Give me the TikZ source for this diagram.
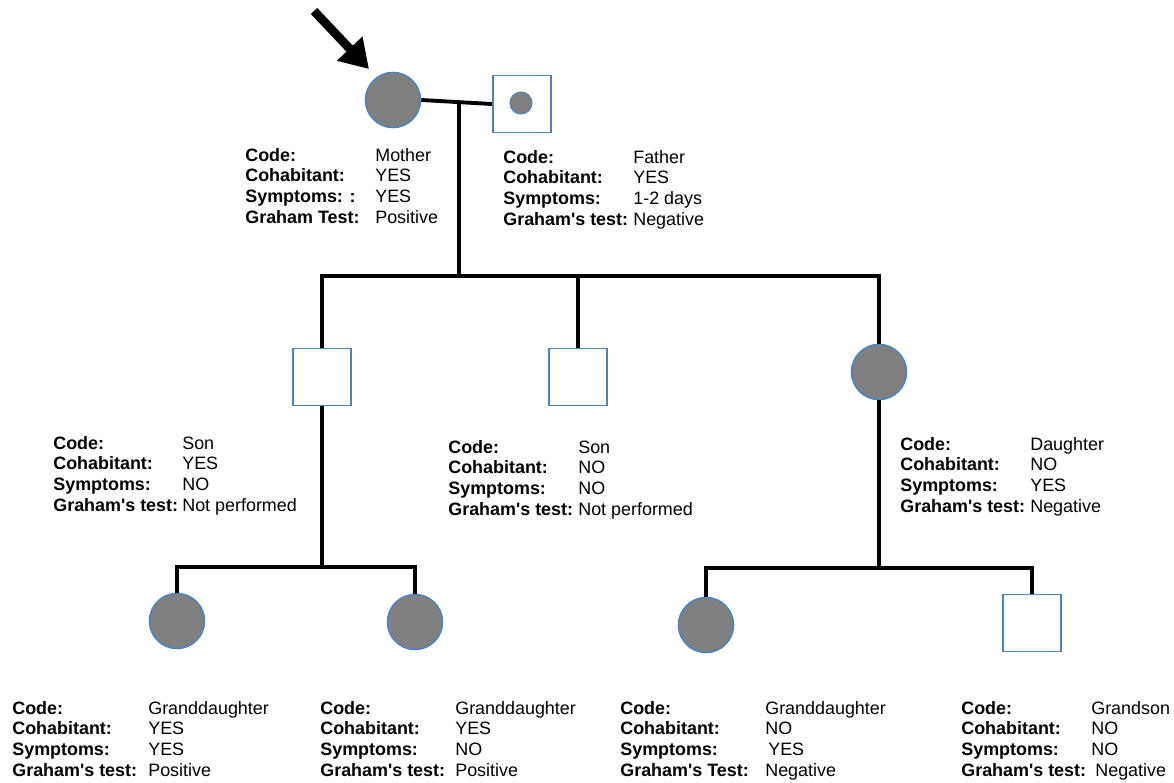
\documentclass[tikz,border=0pt]{standalone}
\usepackage{fontspec}
\setmainfont{Liberation Sans}
\usetikzlibrary{arrows.meta}
\definecolor{affected}{RGB}{128,128,128}
\definecolor{rim}{RGB}{79,129,189}

\begin{document}
\begin{tikzpicture}[x=0.02cm,y=-0.02cm,
  line/.style={draw=black,line width=2.2pt},
  female/.style={circle,draw=rim,line width=0.9pt,fill=affected,minimum size=1.1cm,inner sep=0pt},
  male/.style={rectangle,draw=rim,line width=0.9pt,fill=white,minimum width=1.17cm,minimum height=1.14cm,inner sep=0pt},
  carrier/.style={circle,draw=rim,line width=0.6pt,fill=affected,minimum size=0.44cm,inner sep=0pt},
  info/.style={anchor=base west,inner sep=0pt,font=\fontsize{10.2}{11.9}\selectfont},
  pointer/.style={-{Triangle[length=16pt,width=19pt]},draw=black,line width=5pt},
]
\useasboundingbox (0,0) rectangle (1174,782);

% first generation
\node[female] (mother) at (393,100) {};
\node[male] (father) at (522,104) {};
\node[carrier] (fdot) at (521,103) {};
\coordinate (arrtail) at (314,11);
\coordinate (arrtip) at (369,69);
\draw[pointer] (arrtail) -- (arrtip);

% second generation
\node[male] (son1) at (322,377) {};
\node[male] (son2) at (578,377) {};
\node[female] (dau) at (879,372) {};

% third generation
\node[female] (gd1) at (177,621) {};
\node[female] (gd2) at (415,622) {};
\node[female] (gd3) at (706,625) {};
\node[male] (gson) at (1032,623) {};

% connectors
\coordinate (mar) at (459,104);
\coordinate (sib) at (459,276);
\coordinate (sib2) at (322,567);
\coordinate (sib3) at (879,568);
\draw[line] (mother.east) -- (father.west);
\draw[line] (mar) -- (sib);
\draw[line] (son1.north) |- (sib) -| (dau.north);
\draw[line] (son2.north) -- (son2.north |- sib);
\draw[line] (son1.south) -- (sib2);
\draw[line] (gd1.north) |- (sib2) -| (gd2.north);
\draw[line] (dau.south) -- (sib3);
\draw[line] (gd3.north) |- (sib3) -| (gson.north);

% data
\node[info] (tmother) at (245,161) {\begin{tabular}[t]{@{}p{2.6cm}@{}l@{}}
  \textbf{Code:} & Mother\\ \textbf{Cohabitant:} & YES\\
  \textbf{Symptoms: :} & YES\\ \textbf{Graham Test:} & Positive\end{tabular}};
\node[info] (tfather) at (503,163) {\begin{tabular}[t]{@{}p{2.6cm}@{}l@{}}
  \textbf{Code:} & Father\\ \textbf{Cohabitant:} & YES\\
  \textbf{Symptoms:} & 1-2 days\\ \textbf{Graham\textquotesingle s test:} & Negative\end{tabular}};
\node[info] (tson1) at (53,449) {\begin{tabular}[t]{@{}p{2.58cm}@{}l@{}}
  \textbf{Code:} & Son\\ \textbf{Cohabitant:} & YES\\
  \textbf{Symptoms:} & NO\\ \textbf{Graham\textquotesingle s test:} & Not performed\end{tabular}};
\node[info] (tson2) at (448,453) {\begin{tabular}[t]{@{}p{2.6cm}@{}l@{}}
  \textbf{Code:} & Son\\ \textbf{Cohabitant:} & NO\\
  \textbf{Symptoms:} & NO\\ \textbf{Graham\textquotesingle s test:} & Not performed\end{tabular}};
\node[info] (tdau) at (900,450) {\begin{tabular}[t]{@{}p{2.6cm}@{}l@{}}
  \textbf{Code:} & Daughter\\ \textbf{Cohabitant:} & NO\\
  \textbf{Symptoms:} & YES\\ \textbf{Graham\textquotesingle s test:} & Negative\end{tabular}};
\node[info] (tgd1) at (12,714) {\begin{tabular}[t]{@{}p{2.72cm}@{}l@{}}
  \textbf{Code:} & Granddaughter\\ \textbf{Cohabitant:} & YES\\
  \textbf{Symptoms:} & YES\\ \textbf{Graham\textquotesingle s test:} & Positive\end{tabular}};
\node[info] (tgd2) at (320,714) {\begin{tabular}[t]{@{}p{2.7cm}@{}l@{}}
  \textbf{Code:} & Granddaughter\\ \textbf{Cohabitant:} & YES\\
  \textbf{Symptoms:} & NO\\ \textbf{Graham\textquotesingle s test:} & Positive\end{tabular}};
\node[info] (tgd3) at (620,714) {\begin{tabular}[t]{@{}p{2.9cm}@{}l@{}}
  \textbf{Code:} & Granddaughter\\ \textbf{Cohabitant:} & NO\\
  \textbf{Symptoms:} & \hspace{1.7pt}YES\\ \textbf{Graham\textquotesingle s Test:} & Negative\end{tabular}};
\node[info] (tgson) at (961,714) {\begin{tabular}[t]{@{}p{2.6cm}@{}l@{}}
  \textbf{Code:} & Grandson\\ \textbf{Cohabitant:} & NO\\
  \textbf{Symptoms:} & NO\\ \textbf{Graham\textquotesingle s test:} & \hspace{2.3pt}Negative\end{tabular}};

\end{tikzpicture}
\end{document}
